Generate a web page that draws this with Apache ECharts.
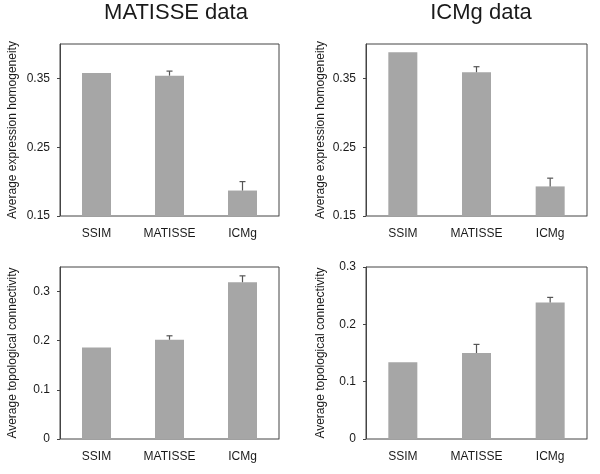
<!DOCTYPE html>
<html>
<head>
<meta charset="utf-8">
<script src="https://cdn.jsdelivr.net/npm/echarts@6/dist/echarts.min.js"></script>
<style>
  html, body { margin: 0; padding: 0; background: #fff; }
  #main { width: 600px; height: 474px; }
</style>
</head>
<body>
<div id="main"></div>
<script>
(function() {
  var categories = ['SSIM', 'MATISSE', 'ICMg'];

  // MATISSE data
  var matHomog = [0.358, 0.354, 0.187];
  var matHomogErr = [0, 0.0066, 0.013];
  var matConn = [0.186, 0.202, 0.319];
  var matConnErr = [0, 0.008, 0.013];

  // ICMg data
  var icmHomog = [0.388, 0.359, 0.193];
  var icmHomogErr = [0, 0.008, 0.012];
  var icmConn = [0.134, 0.150, 0.238];
  var icmConnErr = [0, 0.015, 0.009];

  var homogTicks = [0.15, 0.25, 0.35];
  var connTicks = [0, 0.1, 0.2, 0.3];

  var font = 'Liberation Sans, Arial, sans-serif';
  var ink = '#1a1a1a';
  var barColor = '#a6a6a6';
  var frame = '#444';

  var chart = echarts.init(document.getElementById('main'), null, { renderer: 'canvas' });

  var grids = [
    { left: 60, top: 44, width: 219, height: 172 },
    { left: 366, top: 44, width: 221, height: 172 },
    { left: 60, top: 267, width: 219, height: 172 },
    { left: 366, top: 267, width: 221, height: 172 }
  ].map(function(g) {
    return Object.assign({ show: true, borderColor: frame, borderWidth: 1, backgroundColor: 'transparent' }, g);
  });

  function xAxis(i) {
    return {
      type: 'category', gridIndex: i, data: categories,
      axisLine: { lineStyle: { color: '#a0a0a0' } },
      axisTick: { show: false },
      axisLabel: { color: ink, fontFamily: font, fontSize: 12, margin: 12 }
    };
  }

  function yAxis(i, min, max, ticks, name, gap) {
    return {
      type: 'value', gridIndex: i, min: min, max: max,
      name: name, nameLocation: 'middle', nameGap: gap,
      nameTextStyle: { color: ink, fontFamily: font, fontSize: 12 },
      axisLine: { show: true, lineStyle: { color: frame } },
      axisTick: { show: true, length: 3, lineStyle: { color: frame }, customValues: ticks },
      axisLabel: { color: ink, fontFamily: font, fontSize: 12, margin: 10, customValues: ticks },
      splitLine: { show: false }
    };
  }

  function bars(i, values) {
    return {
      type: 'bar', xAxisIndex: i, yAxisIndex: i, data: values,
      barWidth: 29, itemStyle: { color: barColor }, silent: true
    };
  }

  function errors(i, values, errs) {
    var data = values.map(function(v, k) { return [k, v, errs[k]]; });
    return {
      type: 'custom', xAxisIndex: i, yAxisIndex: i, data: data, silent: true, z: 5,
      renderItem: function(params, api) {
        var err = api.value(2);
        if (!err) return null;
        var base = api.coord([api.value(0), api.value(1)]);
        var top = api.coord([api.value(0), api.value(1) + err]);
        var style = { stroke: '#555', lineWidth: 1.2 };
        return {
          type: 'group',
          children: [
            { type: 'line', shape: { x1: base[0], y1: base[1], x2: top[0], y2: top[1] }, style: style },
            { type: 'line', shape: { x1: top[0] - 3, y1: top[1], x2: top[0] + 3, y2: top[1] }, style: style }
          ]
        };
      }
    };
  }

  chart.setOption({
    animation: false,
    title: [
      { text: 'MATISSE data', left: 171, top: -3, textAlign: 'center',
        textStyle: { color: ink, fontFamily: font, fontSize: 22, fontWeight: 'normal' } },
      { text: 'ICMg data', left: 476, top: -3, textAlign: 'center',
        textStyle: { color: ink, fontFamily: font, fontSize: 22, fontWeight: 'normal' } }
    ],
    grid: grids,
    xAxis: [xAxis(0), xAxis(1), xAxis(2), xAxis(3)],
    yAxis: [
      yAxis(0, 0.15, 0.4, homogTicks, 'Average expression homogeneity', 41),
      yAxis(1, 0.15, 0.4, homogTicks, 'Average expression homogeneity', 39),
      yAxis(2, 0, 0.35, connTicks, 'Average topological connectivity', 41),
      yAxis(3, 0, 0.3, connTicks, 'Average topological connectivity', 39)
    ],
    series: [
      bars(0, matHomog), errors(0, matHomog, matHomogErr),
      bars(1, icmHomog), errors(1, icmHomog, icmHomogErr),
      bars(2, matConn), errors(2, matConn, matConnErr),
      bars(3, icmConn), errors(3, icmConn, icmConnErr)
    ]
  });
})();
</script>
</body>
</html>
